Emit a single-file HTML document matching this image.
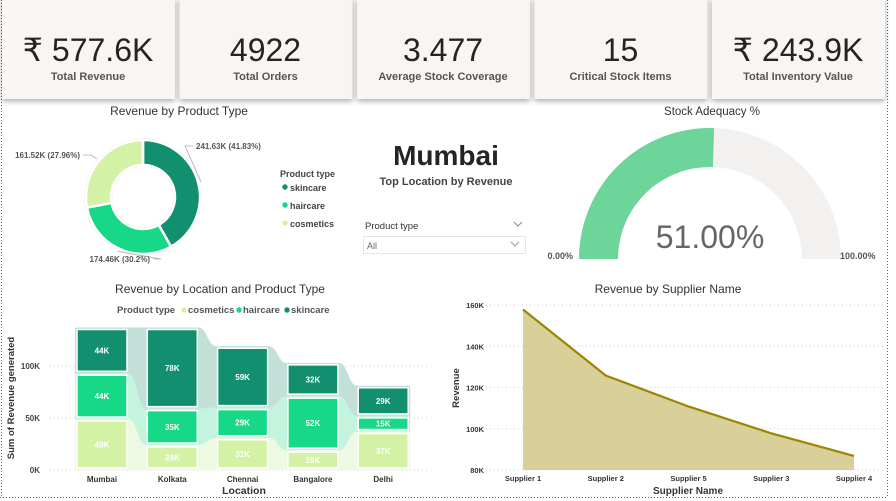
<!DOCTYPE html>
<html><head><meta charset="utf-8">
<style>
body{margin:0;width:896px;height:501px;background:#fff;overflow:hidden;font-family:"Liberation Sans",sans-serif;}
svg{position:absolute;left:0;top:0;}
text{font-family:"Liberation Sans",sans-serif;}
</style></head>
<body>
<svg id="s" width="896" height="501" viewBox="0 0 896 501">
<defs>
<filter id="sh" x="-10%" y="-10%" width="120%" height="130%"><feDropShadow dx="0" dy="2" stdDeviation="3" flood-color="#000" flood-opacity="0.35"/></filter>
</defs>
<g stroke="#666" stroke-dasharray="1,2" stroke-width="1" fill="none">
<line x1="1.5" y1="0" x2="1.5" y2="498"/><line x1="887.5" y1="0" x2="887.5" y2="498"/>
<line x1="0" y1="497.5" x2="888" y2="497.5"/>
</g>
<g id="kpis"></g>

<text x="179" y="115" font-size="12" fill="#333" text-anchor="middle">Revenue by Product Type</text>
<g id="donut"></g>
<g font-size="9" font-weight="bold" fill="#444">
<text x="280" y="177">Product type</text>
<circle cx="285" cy="187" r="2.7" fill="#118f6f"/><text x="290" y="191">skincare</text>
<circle cx="285" cy="205" r="2.7" fill="#17d887"/><text x="290" y="209">haircare</text>
<circle cx="285" cy="223" r="2.7" fill="#d4f2a6"/><text x="290" y="227">cosmetics</text>
</g>

<text x="446" y="165" font-size="28" font-weight="bold" fill="#252423" text-anchor="middle">Mumbai</text>
<text x="446" y="185" font-size="11" fill="#444" text-anchor="middle" font-weight="bold">Top Location by Revenue</text>
<g>
<text x="365" y="229" font-size="9.5" fill="#333">Product type</text>
<path d="M514 222 l4 4 l4 -4" stroke="#888" fill="none"/>
<rect x="363.5" y="236.5" width="162" height="17" fill="#fff" stroke="#e6e6e6"/>
<text x="367" y="249" font-size="9" fill="#666">All</text>
<path d="M511 242 l4 4 l4 -4" stroke="#999" fill="none"/>
</g>

<text x="712" y="115" font-size="11.5" fill="#333" text-anchor="middle">Stock Adequacy %</text>
<g id="gauge"></g>

<text x="220" y="293" font-size="12" fill="#333" text-anchor="middle">Revenue by Location and Product Type</text>
<g font-size="9.5" fill="#555">
<text x="117" y="313" font-weight="bold">Product type</text>
<circle cx="184" cy="310" r="2.7" fill="#d4f2a6"/><text x="188" y="313" font-weight="bold">cosmetics</text>
<circle cx="239" cy="310" r="2.7" fill="#17d887"/><text x="243" y="313" font-weight="bold">haircare</text>
<circle cx="287" cy="310" r="2.7" fill="#118f6f"/><text x="291" y="313" font-weight="bold">skincare</text>
</g>
<g id="ribbon"></g>
<text x="14" y="398" font-size="9.5" font-weight="bold" fill="#333" text-anchor="middle" transform="rotate(-90 14 398)">Sum of Revenue generated</text>
<text x="244" y="494" font-size="10.5" fill="#333" font-weight="bold" text-anchor="middle">Location</text>

<text x="668" y="293" font-size="12" fill="#333" text-anchor="middle">Revenue by Supplier Name</text>
<g id="area"></g>
<text x="459" y="388" font-size="9.5" font-weight="bold" fill="#333" text-anchor="middle" transform="rotate(-90 459 388)">Revenue</text>
<text x="688" y="494" font-size="10" font-weight="bold" fill="#333" text-anchor="middle">Supplier Name</text>
</svg>
<script>
const NS='http://www.w3.org/2000/svg';
function mk(p,tag,a,txt){const e=document.createElementNS(NS,tag);for(const k in a)e.setAttribute(k,a[k]);if(txt!==undefined)e.textContent=txt;p.appendChild(e);return e;}

const kpiValues=['₹ 577.6K','4922','3.477','15','₹ 243.9K'];
const kpiLabels=['Total Revenue','Total Orders','Average Stock Coverage','Critical Stock Items','Total Inventory Value'];
const kg=document.getElementById('kpis');
kpiValues.forEach((v,i)=>{
  const x=2+i*177.5;
  const r=mk(kg,'rect',{x:x,y:-2,width:173,height:101,fill:'#f9f5f3',filter:'url(#sh)'});
  
  
  const t=mk(kg,'text',{x:x+86,y:61,'font-size':32,fill:'#252423','text-anchor':'middle'},v);
  
  
  const l=mk(kg,'text',{x:x+86,y:80,'font-size':11,'font-weight':'bold',fill:'#555','text-anchor':'middle'},kpiLabels[i]);
  
  
});

const donutCats=['skincare','haircare','cosmetics'];
const donutVals=[241.63,174.46,161.52];
const donutLabels=['241.63K (41.83%)','174.46K (30.2%)','161.52K (27.96%)'];
const donutColors=['#118f6f','#17d887','#d4f2a6'];
(function(){
  const g=document.getElementById('donut');const cx=143,cy=197,R=57,r=32;
  const bg=mk(g,'circle',{cx:cx,cy:cy,r:R+2,fill:'#f6f2ee'});
  
  
  const hole=mk(g,'circle',{cx:cx,cy:cy,r:r-2,fill:'#fff'});
  
  
  const tot=donutVals.reduce((a,b)=>a+b,0);let a0=-Math.PI/2;
  const lblPos=[[196,149,'start'],[150,262,'end'],[80,158,'end']];
  donutVals.forEach((v,i)=>{
    const a1=a0+v/tot*2*Math.PI;const P=(rr,a)=>[cx+rr*Math.cos(a),cy+rr*Math.sin(a)];
    const [x1,y1]=P(R,a0),[x2,y2]=P(R,a1),[x3,y3]=P(r,a1),[x4,y4]=P(r,a0);const lg=(a1-a0)>Math.PI?1:0;
    const p=mk(g,'path',{d:`M${x1},${y1}A${R},${R} 0 ${lg} 1 ${x2},${y2}L${x3},${y3}A${r},${r} 0 ${lg} 0 ${x4},${y4}Z`,fill:donutColors[i],stroke:'#fff','stroke-width':2.5});
    
    
    const am=(a0+a1)/2;const [lx,ly]=P(R+3,am);const [tx,ty]=lblPos[i];
    const st=lblPos[i][2]==='start';
    const ex=st?tx-3:tx+3;
    const ln=mk(g,'polyline',{points:`${lx},${ly} ${st?ex-8:ex+8},${ty-3} ${ex},${ty-3}`,fill:'none',stroke:'#aaa','stroke-width':0.8});
    
    
    const t=mk(g,'text',{x:tx,y:ty,'font-size':8,'font-weight':'bold',fill:'#555','text-anchor':lblPos[i][2]},donutLabels[i]);
    
    
    a0=a1;
  });
})();

const gaugeValue=51;const gaugeMin=0;const gaugeMax=100;
(function(){
  const g=document.getElementById('gauge');const cx=710,cy=259,R=131,r=92;
  const arc=(f0,f1,col,name)=>{const a0=Math.PI*(1+f0),a1=Math.PI*(1+f1);const P=(rr,a)=>[cx+rr*Math.cos(a),cy+rr*Math.sin(a)];
    const [x1,y1]=P(R,a0),[x2,y2]=P(R,a1),[x3,y3]=P(r,a1),[x4,y4]=P(r,a0);
    const p=mk(g,'path',{d:`M${x1},${y1}A${R},${R} 0 0 1 ${x2},${y2}L${x3},${y3}A${r},${r} 0 0 0 ${x4},${y4}Z`,fill:col});
    
    };
  const f=(gaugeValue-gaugeMin)/(gaugeMax-gaugeMin);
  arc(0,1,'#f2f1f0','gauge-track');arc(0,f,'#6dd49a','gauge-fill');
  const t=mk(g,'text',{x:cx,y:248,'font-size':32,fill:'#666','text-anchor':'middle'},gaugeValue.toFixed(2)+'%');
  
  
  const a=mk(g,'text',{x:573,y:259,'font-size':9,'font-weight':'bold',fill:'#555','text-anchor':'end'},gaugeMin.toFixed(2)+'%');
  
  
  const b=mk(g,'text',{x:840,y:259,'font-size':9,'font-weight':'bold',fill:'#555'},gaugeMax.toFixed(2)+'%');
  
  
})();

const locations=['Mumbai','Kolkata','Chennai','Bangalore','Delhi'];
const ribbonSeries=['cosmetics','haircare','skincare'];
const cosmeticsVals=[49,24,31,19,37];
const haircareVals=[44,35,29,52,15];
const skincareVals=[44,78,59,32,29];
const ribbonTicks=[0,50,100];
(function(){
  const g=document.getElementById('ribbon');
  const y=v=>470-v*1.04;const bx=i=>76+i*70.3;const bw=52;
  const vals=[cosmeticsVals,haircareVals,skincareVals];
  const barCol=['#d4f2a6','#17d887','#118f6f'];const ribCol=['#eef9e3','#c4f3de','#c2dfd8'];
  ribbonTicks.forEach(t=>{const l=mk(g,'line',{x1:50,x2:430,y1:y(t),y2:y(t),stroke:'#ccc','stroke-dasharray':'1,3'});
    
    
    const tx=mk(g,'text',{x:40,y:y(t)+3,'font-size':8,'font-weight':'bold',fill:'#444','text-anchor':'end'},t+'K');
    
    });
  const cum=locations.map((_,i)=>{let c=0;return vals.map(s=>{const b=c;c+=s[i];return [b,c];});});
  vals.forEach((s,k)=>{for(let i=0;i<locations.length-1;i++){
    const xa=bx(i)+bw,xb=bx(i+1),xm=(xa+xb)/2;const [a0,a1]=cum[i][k],[b0,b1]=cum[i+1][k];
    const p=mk(g,'path',{d:`M${xa},${y(a1)}C${xm},${y(a1)} ${xm},${y(b1)} ${xb},${y(b1)}L${xb},${y(b0)}C${xm},${y(b0)} ${xm},${y(a0)} ${xa},${y(a0)}Z`,fill:ribCol[k]});
    
    }
  });
  locations.forEach((loc,i)=>{
    vals.forEach((s,k)=>{const [b0,b1]=cum[i][k];
      const bgr=mk(g,'rect',{x:bx(i)-1,y:y(b1),width:bw+2,height:y(b0)-y(b1),fill:ribCol[k]});
      
      
      const r=mk(g,'rect',{x:bx(i)+1,y:y(b1)+2,width:bw-2,height:Math.max(0,y(b0)-y(b1)-4),fill:barCol[k],stroke:'#fff','stroke-width':1.5});
      
      
      const t=mk(g,'text',{x:bx(i)+bw/2,y:(y(b0)+y(b1))/2+3,'font-size':8,'font-weight':'bold',fill:'#fff','text-anchor':'middle'},s[i]+'K');
      
      });
    const xl=mk(g,'text',{x:bx(i)+bw/2,y:482,'font-size':8,'font-weight':'bold',fill:'#333','text-anchor':'middle'},loc);
    
    
  });
})();

const suppliers=['Supplier 1','Supplier 2','Supplier 5','Supplier 3','Supplier 4'];
const supplierRevenue=[157.8,125.8,110.8,97.8,86.8];
const areaTicks=[80,100,120,140,160];
(function(){
  const g=document.getElementById('area');
  const y=v=>470-(v-80)*165/80;const x=i=>523+i*82.75;
  areaTicks.forEach(t=>{const l=mk(g,'line',{x1:486,x2:886,y1:y(t),y2:y(t),stroke:'#ccc','stroke-dasharray':'1,3'});
    
    
    const tx=mk(g,'text',{x:484,y:y(t)+3,'font-size':7.5,'font-weight':'bold',fill:'#333','text-anchor':'end'},t+'K');
    
    });
  const pts=supplierRevenue.map((v,i)=>x(i)+','+y(v)).join(' ');
  const a=mk(g,'polygon',{points:x(0)+','+y(80)+' '+pts+' '+x(suppliers.length-1)+','+y(80),fill:'#d9cf99'});
  
  
  const l=mk(g,'polyline',{points:pts,fill:'none',stroke:'#9c8500','stroke-width':2.2});
  
  
  suppliers.forEach((s,i)=>{const t=mk(g,'text',{x:x(i),y:481,'font-size':7.5,'font-weight':'bold',fill:'#333','text-anchor':'middle'},s);
    
    });
})();
</script>
</body></html>
